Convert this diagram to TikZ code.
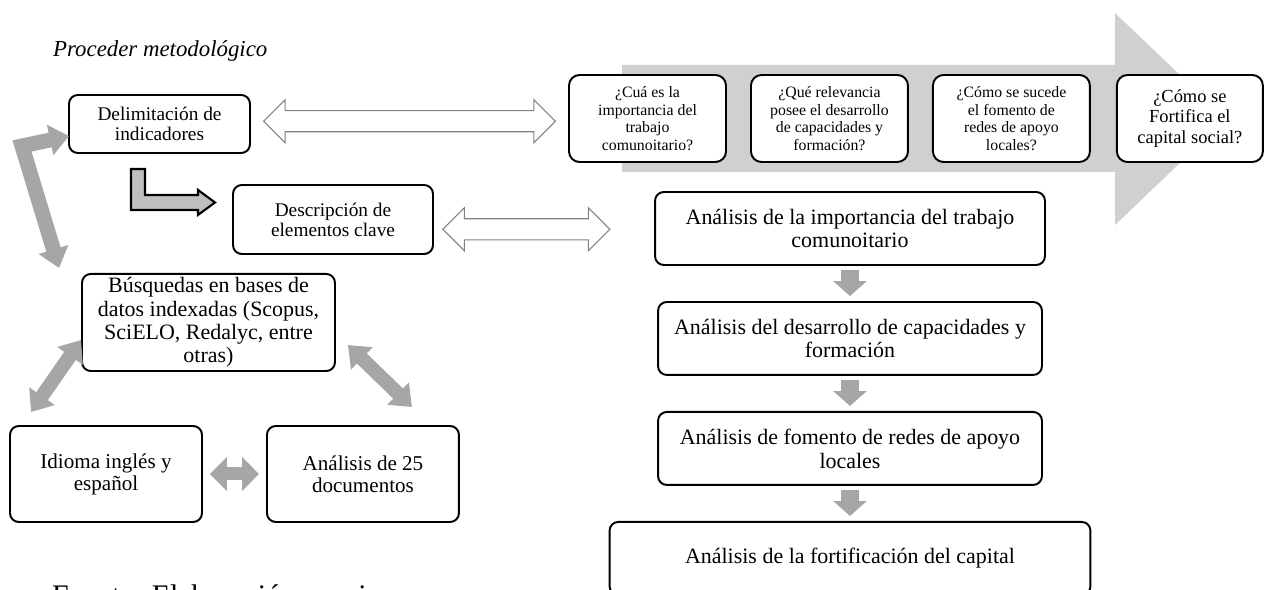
\documentclass[tikz,border=0pt]{standalone}
\usepackage{fontspec}
\setmainfont{Liberation Serif}
\usepackage{xcolor}
\usetikzlibrary{shapes,arrows.meta,positioning,calc}

\definecolor{arrowgray}{RGB}{166,166,166}
\definecolor{bandgray}{RGB}{208,208,208}

\begin{document}
\begin{tikzpicture}[x=0.02cm, y=-0.02cm, node distance=2.2cm]
        \tikzstyle{block} = [rectangle, draw, line width=1.1pt, fill=white, 
            rounded corners=5pt, align=center, inner sep=2pt]
        \tikzstyle{question} = [block, rounded corners=6pt, minimum width=3.14cm, 
            minimum height=1.74cm, font=\fontsize{9}{10}\selectfont]
        \tikzstyle{result} = [block, minimum width=7.68cm, minimum height=1.46cm, 
            font=\fontsize{12.5}{13.6}\selectfont]
        \tikzstyle{hollow} = [double arrow, draw=gray, line width=0.6pt, fill=white, 
            inner sep=0.2cm, double arrow head extend=0.22cm]
        \tikzstyle{link} = [draw=arrowgray, line width=8pt, 
            {Triangle[width=17pt,length=11pt]}-{Triangle[width=17pt,length=11pt]}]
        \tikzstyle{down} = [draw=arrowgray, line width=10.8pt, 
            -{Triangle[width=18.7pt,length=8.5pt]}, shorten <=0.08cm, shorten >=0.1cm]

        \useasboundingbox (0,0) rectangle (1265,590);

        % band behind the questions
        \fill[bandgray] (622,65) -- (1115,65) -- (1115,13) -- (1226,119) 
            -- (1115,225) -- (1115,172) -- (622,172) -- cycle;

        \node [anchor=base west, font=\fontsize{13}{15}\selectfont\itshape] (title) at (47,57) {Proceder metodológico};

        \node [block, minimum width=3.62cm, minimum height=1.16cm, font=\fontsize{11}{11.5}\selectfont] (delim) at (159.5,124) {Delimitación de\\indicadores};
        \node [block, minimum width=4cm, minimum height=1.38cm, font=\fontsize{11}{11.5}\selectfont] (desc) at (333,219.5) {Descripción de\\elementos clave};
        \node [block, minimum width=5.06cm, minimum height=1.9cm, font=\fontsize{12.5}{13.3}\selectfont] (busq) at (208.5,322.5) {Búsquedas en bases de\\datos indexadas (Scopus,\\SciELO, Redalyc, entre\\otras)};
        \node [block, minimum width=3.84cm, minimum height=1.92cm, font=\fontsize{12}{12.5}\selectfont] (idioma) at (106,474) {Idioma inglés y\\español};
        \node [block, minimum width=3.84cm, minimum height=1.92cm, font=\fontsize{12}{12.5}\selectfont, right of=idioma, node distance=5.14cm] (docs) {Análisis de 25\\documentos};

        \node [question] (q1) at (647.5,118.5) {¿Cuá es la\\importancia del\\trabajo\\comunoitario?};
        \node [question, right of=q1, node distance=3.64cm] (q2) {¿Qué relevancia\\posee el desarrollo\\de capacidades y\\formación?};
        \node [question, right of=q2, node distance=3.64cm] (q3) {¿Cómo se sucede\\el fomento de\\redes de apoyo\\locales?};
        \node [question, right of=q3, node distance=3.57cm, minimum width=2.92cm, font=\fontsize{10.5}{11.5}\selectfont] (q4) {¿Cómo se\\Fortifica el\\capital social?};

        \node [result, minimum width=7.8cm] (an1) at (850,228.5) {Análisis de la importancia del trabajo\\comunoitario};
        \node [result, below of=an1] (an2) {Análisis del desarrollo de capacidades y\\formación};
        \node [result, below of=an2] (an3) {Análisis de fomento de redes de apoyo\\locales};
        \node [result, below of=an3, minimum width=9.62cm] (an4) {Análisis de la fortificación del capital};

        \node [anchor=base west, font=\fontsize{17}{20}\selectfont] (source) at (46,606) {Fuente: Elaboración propia};

        \node [hollow, minimum height=5.84cm] (link1) at ($(delim.east)!0.5!(q1.west)$) {};
        \node [hollow, minimum height=3.34cm] (link2) at ($(desc.east)!0.42!(an1.west)+(0,6)$) {};

        \draw [line width=1.2pt, fill=gray!50] ($(delim.south)+(-28.5,15)$) -- ++(14,0) -- ++(0,26) 
            -- ++(53,0) -- ++(0,-5) -- ++(17,12.5) -- ++(-17,12.5) -- ++(0,-5) -- ++(-67,0) -- cycle;

        \coordinate (elbow) at (22,146);
        \path [link, line width=8.5pt] ($(delim.west)+(1,12)$) -- (elbow) -- ($(busq.north west)+(-22,-5)$);
        \path [link] ($(busq.west)+(0,17.5)$) -- ($(idioma.north)+(-75,-13)$);
        \path [link] ($(busq.east)+(12,22.5)$) -- ($(docs.north)+(49,-18)$);
        \path [link, line width=7.4pt, {Triangle[width=18.7pt,length=9.6pt]}-{Triangle[width=18.7pt,length=9.6pt]}, shorten <=0.14cm, shorten >=0.14cm] (idioma) -- (docs);

        \path [down] (an1) -- (an2);
        \path [down] (an2) -- (an3);
        \path [down] (an3) -- (an4);
      \end{tikzpicture}
\end{document}
